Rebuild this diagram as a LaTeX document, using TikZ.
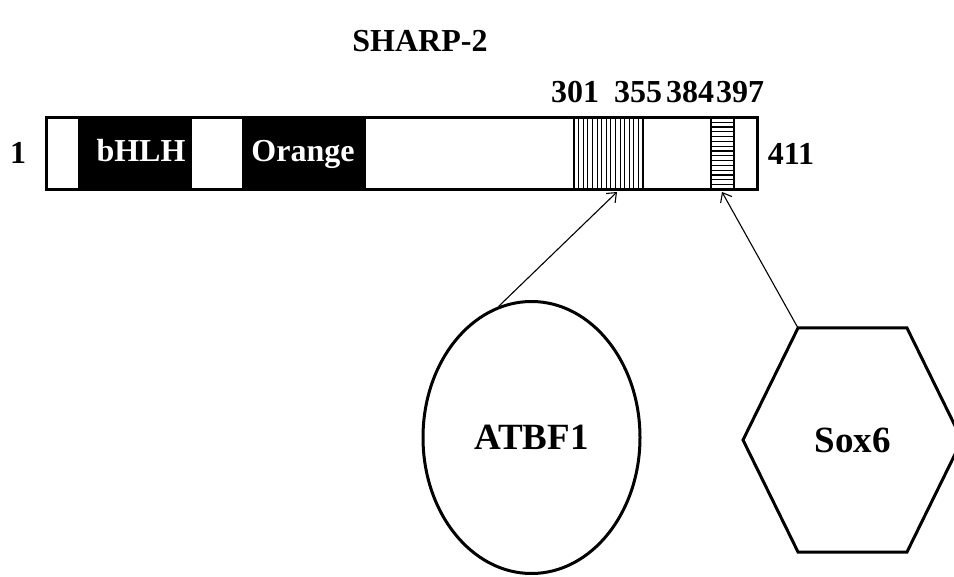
\documentclass[tikz,border=0pt]{standalone}
\usepackage{fontspec}
\setmainfont{Liberation Serif}
\usetikzlibrary{arrows.meta,shapes.geometric}
\begin{document}
\begin{tikzpicture}[x=1pt,y=-1pt,
  lbl/.style={font=\bfseries\fontsize{32}{34}\selectfont, inner sep=0pt, anchor=base},
  wlbl/.style={lbl, text=white},
  big/.style={font=\bfseries\fontsize{37}{40}\selectfont, inner sep=0pt},
  conn/.style={line width=1.1pt, -{Straight Barb[length=8pt,width=13pt]}},
  hatchbox/.style={line width=1.6pt},
  hatchline/.style={line width=0.9pt}]
\clip (0,0) rectangle (954,577);
\fill[white] (0,0) rectangle (954,577);
% title
\node[font=\bfseries\fontsize{32}{34}\selectfont, inner sep=0pt, anchor=base] (title) at (420,52) {SHARP-2};
% bar
\fill (78,117) rectangle (192,190);
\fill (242,117) rectangle (366,190);
\foreach \i in {0,...,15} \draw[hatchline] ({574+\i*4.6},117.5) -- ({574+\i*4.6},189.5);
\draw[hatchbox] (574,117.5) rectangle (643,189.5);
\foreach \i in {0,...,15} \draw[line width=1.2pt] (711,{117.5+\i*4.8}) -- (734,{117.5+\i*4.8});
\draw[hatchbox] (711,117.5) rectangle (734,189.5);
\draw[line width=3pt] (46.5,117.5) rectangle (757.5,189.5);
% labels
\node[wlbl] (bhlh) at (141,162) {bHLH};
\node[wlbl] (orange) at (303,162) {Orange};
\node[lbl] (n1) at (18,164) {1};
\node[lbl] (n411) at (791,165) {411};
\node[lbl] (n301) at (575,103) {301};
\node[lbl] (n355) at (638,103) {355};
\node[lbl] (n384) at (690,103) {384};
\node[lbl] (n397) at (740,103) {397};
% partners
\node[big, ellipse, draw, line width=3pt, minimum width=217pt, minimum height=272pt, inner sep=0pt] (atbf) at (531.5,437.5) {ATBF1};
\draw[line width=3pt, line join=miter] (743,440) -- (798,328) -- (907,328) -- (962,440) -- (907,552) -- (798,552) -- cycle;
\node[big] (sox) at (852.5,440) {Sox6};
\coordinate (soxtl) at (798,328);
\coordinate (t1) at (617,192);
\coordinate (t2) at (722,192);
\draw[conn] (atbf.104) -- (t1);
\draw[conn] (soxtl) -- (t2);
\end{tikzpicture}
\end{document}
